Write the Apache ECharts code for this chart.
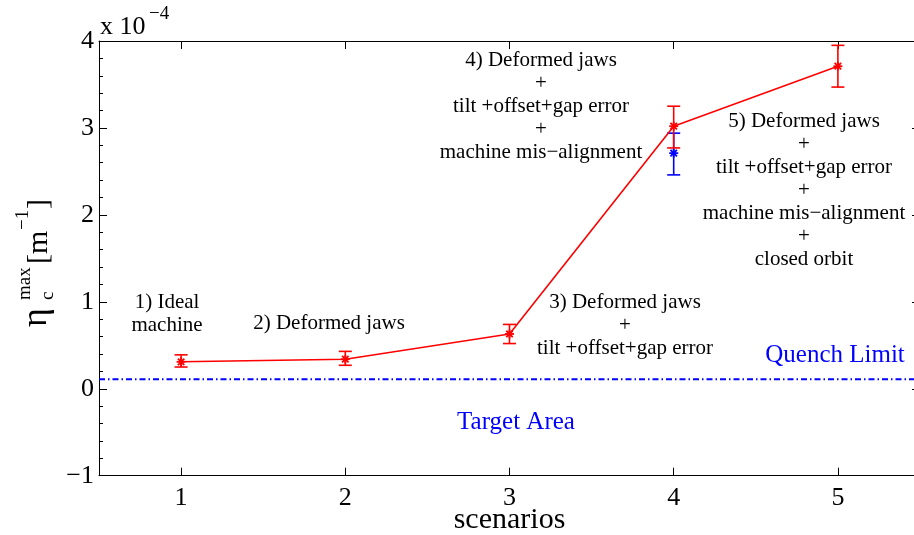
<!DOCTYPE html>
<html>
<head>
<meta charset="utf-8">
<script src="https://cdn.jsdelivr.net/npm/echarts@6/dist/echarts.min.js"></script>
<style>
html,body{margin:0;padding:0;background:#fff;overflow:hidden;}
#chart{width:914px;height:535px;}
</style>
</head>
<body>
<div id="chart"></div>
<script>
// ---- data ----
var scenarios = [1, 2, 3, 4, 5];
var redValues = [0.31, 0.34, 0.63, 3.02, 3.71];
var redLow    = [0.25, 0.27, 0.52, 2.77, 3.47];
var redHigh   = [0.39, 0.43, 0.74, 3.25, 3.95];
var blueX      = [4];
var blueValues = [2.71];
var blueLow    = [2.46];
var blueHigh   = [2.94];
var quenchLimit = 0.11;
var xRange = [0.5, 5.5];
var yRange = [-1, 4];
var annotations = [
  {text: '1) Ideal\nmachine', x: 167, y: 302},
  {text: '2) Deformed jaws', x: 329, y: 323},
  {text: '3) Deformed jaws\n+\ntilt +offset+gap error', x: 625, y: 302},
  {text: '4) Deformed jaws\n+\ntilt +offset+gap error\n+\nmachine mis\u2212alignment', x: 541, y: 60},
  {text: '5) Deformed jaws\n+\ntilt +offset+gap error\n+\nmachine mis\u2212alignment\n+\nclosed orbit', x: 804, y: 121}
];

var SERIF = '"Liberation Serif", "DejaVu Serif", serif';
var chart = echarts.init(document.getElementById('chart'), null, {renderer: 'canvas'});

function errData(xs, ys, lo, hi) {
  return xs.map(function (x, i) { return [x, ys[i], lo[i], hi[i]]; });
}
function makeErrRender(color) {
  return function (params, api) {
    var x = api.value(0), y = api.value(1), lo = api.value(2), hi = api.value(3);
    var p = api.coord([x, y]);
    var pl = api.coord([x, lo]);
    var ph = api.coord([x, hi]);
    var cap = 6.5, s = 4.5, d = s * 0.72;
    var st = {stroke: color, lineWidth: 1.6};
    var st2 = {stroke: color, lineWidth: 1.8};
    return {
      type: 'group',
      children: [
        {type: 'line', shape: {x1: pl[0], y1: pl[1], x2: ph[0], y2: ph[1]}, style: st},
        {type: 'line', shape: {x1: pl[0] - cap, y1: pl[1], x2: pl[0] + cap, y2: pl[1]}, style: st},
        {type: 'line', shape: {x1: ph[0] - cap, y1: ph[1], x2: ph[0] + cap, y2: ph[1]}, style: st},
        {type: 'line', shape: {x1: p[0] - s, y1: p[1], x2: p[0] + s, y2: p[1]}, style: st2},
        {type: 'line', shape: {x1: p[0], y1: p[1] - s, x2: p[0], y2: p[1] + s}, style: st2},
        {type: 'line', shape: {x1: p[0] - d, y1: p[1] - d, x2: p[0] + d, y2: p[1] + d}, style: st2},
        {type: 'line', shape: {x1: p[0] - d, y1: p[1] + d, x2: p[0] + d, y2: p[1] - d}, style: st2}
      ]
    };
  };
}

var graphics = annotations.map(function (a) {
  return {
    type: 'text', x: a.x, y: a.y - 11.5, z: 10,
    style: {text: a.text, x: 0, y: 0, font: '21px ' + SERIF, fill: '#000',
      textAlign: 'center', textVerticalAlign: 'top', lineHeight: 23}
  };
});
graphics.push(
  {type: 'text', x: 835, y: 355, z: 10,
    style: {text: 'Quench Limit', font: '25px ' + SERIF, fill: '#0000ff', textAlign: 'center', textVerticalAlign: 'middle'}},
  {type: 'text', x: 516, y: 422, z: 10,
    style: {text: 'Target Area', font: '25px ' + SERIF, fill: '#0000ff', textAlign: 'center', textVerticalAlign: 'middle'}},
  {type: 'text', x: 100, y: 27, z: 10,
    style: {text: 'x 10', font: '26px ' + SERIF, fill: '#000', textAlign: 'left', textVerticalAlign: 'middle'}},
  {type: 'text', x: 149, y: 14, z: 10,
    style: {text: '\u22124', font: '19px ' + SERIF, fill: '#000', textAlign: 'left', textVerticalAlign: 'middle'}},
  {
    type: 'group', x: 50, y: 327, rotation: Math.PI / 2, z: 10,
    children: [
      {type: 'text', style: {text: '\u03b7', x: 0, y: -13, font: '36px ' + SERIF, fill: '#000', textAlign: 'left', textVerticalAlign: 'middle'}},
      {type: 'text', style: {text: 'max', x: 27, y: -25, font: '19px ' + SERIF, fill: '#000', textAlign: 'left', textVerticalAlign: 'middle'}},
      {type: 'text', style: {text: 'c', x: 27, y: -2, font: '19px ' + SERIF, fill: '#000', textAlign: 'left', textVerticalAlign: 'middle'}},
      {type: 'text', style: {text: '[m', x: 63, y: -11, font: '30px ' + SERIF, fill: '#000', textAlign: 'left', textVerticalAlign: 'middle'}},
      {type: 'text', style: {text: '\u22121', x: 97, y: -27, font: '19px ' + SERIF, fill: '#000', textAlign: 'left', textVerticalAlign: 'middle'}},
      {type: 'text', style: {text: ']', x: 118, y: -11, font: '30px ' + SERIF, fill: '#000', textAlign: 'left', textVerticalAlign: 'middle'}}
    ]
  }
);

var axisLineStyle = {color: '#000', width: 1};
var option = {
  animation: false,
  backgroundColor: '#fff',
  grid: {left: 99, top: 41, width: 821, height: 434.7, containLabel: false, outerBoundsMode: 'none'},
  xAxis: [
    {
      type: 'value', min: xRange[0], max: xRange[1], position: 'bottom',
      axisLine: {show: true, onZero: false, lineStyle: axisLineStyle},
      axisTick: {show: true, inside: true, length: 8, customValues: scenarios, lineStyle: {color: '#000'}},
      axisLabel: {show: true, customValues: scenarios, margin: 9, color: '#000', fontFamily: SERIF, fontSize: 26},
      splitLine: {show: false},
      name: 'scenarios', nameLocation: 'middle', nameGap: 29, nameMoveOverlap: false,
      nameTextStyle: {fontFamily: SERIF, fontSize: 30, color: '#000'}
    },
    {
      type: 'value', min: xRange[0], max: xRange[1], position: 'top',
      axisLine: {show: true, onZero: false, lineStyle: axisLineStyle},
      axisTick: {show: true, inside: true, length: 8, customValues: scenarios, lineStyle: {color: '#000'}},
      axisLabel: {show: false},
      splitLine: {show: false}
    }
  ],
  yAxis: [
    {
      type: 'value', min: yRange[0], max: yRange[1], interval: 1, position: 'left',
      axisLine: {show: true, onZero: false, lineStyle: axisLineStyle},
      axisTick: {show: true, inside: true, length: 8, lineStyle: {color: '#000'}},
      minorTick: {show: true, splitNumber: 5, length: 4, lineStyle: {color: '#000'}},
      axisLabel: {show: true, margin: 5, color: '#000', fontFamily: SERIF, fontSize: 26,
        formatter: function (v) { return v < 0 ? '\u2212' + Math.abs(v) : String(v); }},
      splitLine: {show: false}
    },
    {
      type: 'value', min: yRange[0], max: yRange[1], interval: 1, position: 'right',
      axisLine: {show: true, onZero: false, lineStyle: axisLineStyle},
      axisTick: {show: true, inside: true, length: 8, lineStyle: {color: '#000'}},
      minorTick: {show: true, splitNumber: 5, length: 4, lineStyle: {color: '#000'}},
      axisLabel: {show: false},
      splitLine: {show: false}
    }
  ],
  series: [
    {
      type: 'line', name: 'Quench Limit', xAxisIndex: 0, yAxisIndex: 0,
      data: [[xRange[0], quenchLimit], [xRange[1], quenchLimit]],
      symbol: 'none', silent: true,
      lineStyle: {color: '#0000ff', width: 2, type: [6, 3, 1.5, 3]}
    },
    {
      type: 'custom', name: 'blue', xAxisIndex: 0, yAxisIndex: 0,
      renderItem: makeErrRender('#0000ff'),
      encode: {x: 0, y: 1},
      data: errData(blueX, blueValues, blueLow, blueHigh)
    },
    {
      type: 'line', name: 'red', xAxisIndex: 0, yAxisIndex: 0,
      data: scenarios.map(function (x, i) { return [x, redValues[i]]; }),
      symbol: 'none',
      lineStyle: {color: '#ff0000', width: 1.6}
    },
    {
      type: 'custom', name: 'redErr', xAxisIndex: 0, yAxisIndex: 0,
      renderItem: makeErrRender('#ff0000'),
      encode: {x: 0, y: 1},
      data: errData(scenarios, redValues, redLow, redHigh)
    }
  ],
  graphic: graphics
};
chart.setOption(option);
</script>
</body>
</html>
